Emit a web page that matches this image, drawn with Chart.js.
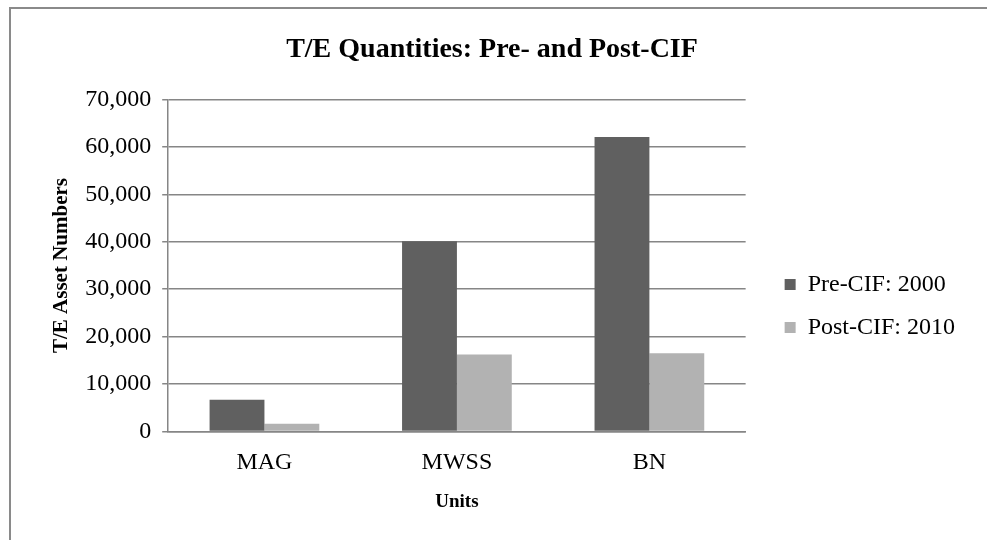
<!DOCTYPE html>
<html>
<head>
<meta charset="utf-8">
<script src="https://cdn.jsdelivr.net/npm/chart.js@4.4.0/dist/chart.umd.min.js"></script>
<style>
  html, body { margin: 0; padding: 0; background: #fff; }
  #wrap { position: relative; width: 987px; height: 540px; overflow: hidden; }
  #frame { position: absolute; left: 9px; top: 7px; width: 1000px; height: 600px;
           border-left: 2px solid #8a8a8a; border-top: 2px solid #8a8a8a; }
  canvas { position: absolute; left: 0; top: 0; }
</style>
</head>
<body>
<div id="wrap">
  <div id="frame"></div>
  <canvas id="c" width="987" height="540"></canvas>
</div>
<script>
const categories = ["MAG", "MWSS", "BN"];
const seriesNames = ["Pre-CIF: 2000", "Post-CIF: 2010"];
const preCIF2000 = [6700, 40100, 62100];
const postCIF2010 = [1600, 16200, 16500];
const yTicks = [0, 10000, 20000, 30000, 40000, 50000, 60000, 70000];

const serif = "'Liberation Serif', 'Times New Roman', serif";

// shift the legend's drawing to sit where the reference places it
const LEGEND_DX = 20, LEGEND_DY = 33;
const LegendEl = Chart.Legend._element;
const origLegendDraw = LegendEl.prototype.draw;
LegendEl.prototype.draw = function () {
  const ctx = this.ctx;
  ctx.save();
  ctx.translate(LEGEND_DX, LEGEND_DY);
  origLegendDraw.call(this);
  ctx.restore();
};

new Chart(document.getElementById('c'), {
  type: 'bar',
  data: {
    labels: categories,
    datasets: [
      { label: seriesNames[0], data: preCIF2000, backgroundColor: '#606060', borderWidth: 0 },
      { label: seriesNames[1], data: postCIF2010, backgroundColor: '#b2b2b2', borderWidth: 0 }
    ]
  },
  options: {
    responsive: false,
    animation: false,
    devicePixelRatio: 1,
    layout: { padding: { left: 39, right: 42, top: 33, bottom: 27 } },
    datasets: { bar: { categoryPercentage: 0.57, barPercentage: 1.0 } },
    plugins: {
      title: {
        display: true,
        text: 'T/E Quantities: Pre- and Post-CIF',
        color: '#000',
        font: { family: serif, size: 28, weight: 'bold' },
        padding: { top: 0, bottom: 33 }
      },
      legend: {
        position: 'right',
        align: 'center',
        labels: {
          color: '#000',
          font: { family: serif, size: 24 },
          boxWidth: 11, boxHeight: 11,
          padding: 19
        }
      },
      tooltip: { enabled: false }
    },
    scales: {
      x: {
        grid: { display: false, drawTicks: false },
        border: { display: true, color: '#868686', width: 1.5 },
        ticks: { color: '#000', font: { family: serif, size: 24 }, padding: 17 },
        title: { display: true, text: 'Units', color: '#000',
                 font: { family: serif, size: 19, weight: 'bold' }, padding: { top: -4, bottom: 0 } }
      },
      y: {
        min: 0, max: 70000,
        afterBuildTicks: (axis) => { axis.ticks = yTicks.map(v => ({ value: v })); },
        grid: { color: '#868686', lineWidth: 1.5, tickLength: 6 },
        border: { display: true, color: '#868686', width: 1.5 },
        ticks: { color: '#000', font: { family: serif, size: 24 }, padding: 11,
                 callback: (v) => v.toLocaleString('en-US') },
        title: { display: true, text: 'T/E Asset Numbers', color: '#000',
                 font: { family: serif, size: 21, weight: 'bold' }, padding: { top: 10, bottom: 0 } }
      }
    }
  }
});
</script>
</body>
</html>
